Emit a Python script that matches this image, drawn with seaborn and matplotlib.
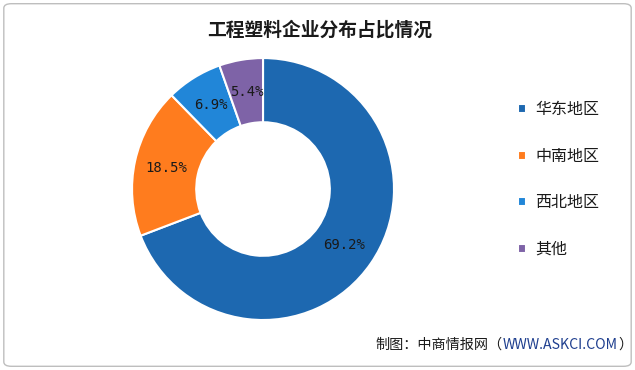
import matplotlib
matplotlib.use("Agg")
import matplotlib.pyplot as plt
import seaborn as sns
from matplotlib.patches import FancyBboxPatch
from matplotlib.transforms import offset_copy

# --- DATA ---
regions = ['华东地区', '中南地区', '西北地区', '其他']
shares = [69.2, 18.5, 6.9, 5.4]
colors = ['#1D68B0', '#FF7C1E', '#2186D8', '#7E63A7']
title = '工程塑料企业分布占比情况'
source_parts = [('制图：中商情报网（', '#1A1A1A'), ('WWW.ASKCI.COM', '#1F3F8F'), ('）', '#1A1A1A')]

sns.set_theme(style="white")
plt.rcParams['font.family'] = ['Noto Sans CJK SC', 'DejaVu Sans']

fig = plt.figure(figsize=(6.35, 3.7), dpi=100)
fig.patch.set_facecolor('white')

# rounded grey frame
frame = FancyBboxPatch((0.006, 0.01), 0.988, 0.98, boxstyle="round,pad=0,rounding_size=0.012",
                       transform=fig.transFigure, fill=False, edgecolor='#BEBEBE', linewidth=1.0)
fig.patches.append(frame)

ax = fig.add_axes([0.2079, 0.1351, 0.4126, 0.708])
wedges, texts, autotexts = ax.pie(
    shares, colors=colors, startangle=90, counterclock=False, radius=1.0,
    autopct=lambda p: f'{p:.1f}%', pctdistance=0.755,
    wedgeprops=dict(width=0.49, edgecolor='white', linewidth=1.5),
    textprops=dict(fontsize=10, color='#1A1A1A', family=['DejaVu Sans Mono']))
ax.set_xlim(-1, 1)
ax.set_ylim(-1, 1)
ax.set_aspect('equal')
ax.axis('off')

fig.text(0.504, 0.918, title, ha='center', va='center', fontsize=13.5, fontweight='bold', color='#1A1A1A')

leg = fig.legend(wedges, regions, loc='upper left', bbox_to_anchor=(0.793, 0.765),
                 frameon=False, fontsize=11.5, handlelength=0.5, handleheight=0.5,
                 handletextpad=0.6, labelspacing=1.85)
for t in leg.get_texts():
    t.set_color('#1A1A1A')

# source line, pieces placed one after another
fig.canvas.draw()
renderer = fig.canvas.get_renderer()
trans = fig.transFigure
x_px = 0
for i, (txt, col) in enumerate(source_parts):
    t = fig.text(0.592, 0.068, txt, ha='left', va='center', fontsize=10.2, color=col,
                 transform=offset_copy(trans, fig=fig, x=x_px * 72 / fig.dpi, y=0, units='points'))
    x_px += t.get_window_extent(renderer).width

fig.savefig('out.png', dpi=100)
